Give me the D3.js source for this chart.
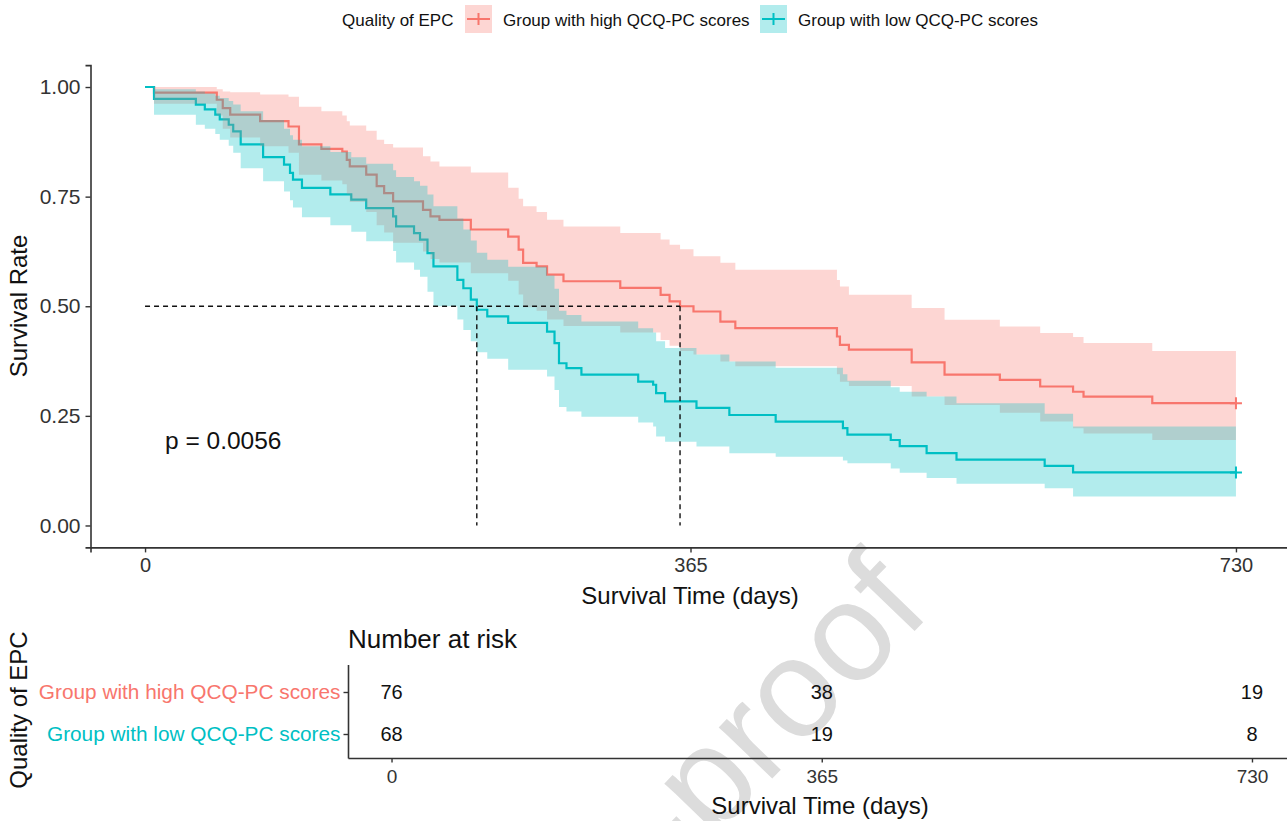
<!DOCTYPE html>
<html>
<head>
<meta charset="utf-8">
<script src="https://cdn.jsdelivr.net/npm/d3@7"></script>
<style>
  body { margin: 0; background: #fff; }
  text { font-family: "Liberation Sans", Arial, sans-serif; }
</style>
</head>
<body>
<svg id="km" width="1287" height="821"></svg>
<script>
// groups and colours (ggplot defaults)
var groups = ["Group with high QCQ-PC scores", "Group with low QCQ-PC scores"];
var colors = ["#F8766D", "#00BFC4"];

// Kaplan-Meier steps: high QCQ-PC group
var highTime  = [0, 6, 48, 52, 57, 77, 96, 103, 118, 132, 135, 137, 148, 155, 160, 166, 186, 191, 197, 218, 243, 250, 253, 262, 269, 280, 318, 345, 351, 358, 367, 385, 395, 463, 465, 471, 513, 535, 572, 599, 621, 628, 674];
var highSurv  = [1, 0.987, 0.971, 0.952, 0.937, 0.922, 0.91, 0.869, 0.859, 0.853, 0.834, 0.819, 0.8, 0.774, 0.758, 0.739, 0.72, 0.705, 0.697, 0.675, 0.659, 0.629, 0.599, 0.591, 0.572, 0.557, 0.542, 0.526, 0.511, 0.5, 0.488, 0.465, 0.45, 0.431, 0.412, 0.401, 0.372, 0.344, 0.332, 0.317, 0.305, 0.294, 0.279];
var highUpper = [1, 1, 0.995, 0.99, 0.988, 0.983, 0.978, 0.955, 0.945, 0.935, 0.922, 0.912, 0.9, 0.88, 0.87, 0.862, 0.842, 0.83, 0.819, 0.805, 0.77, 0.745, 0.728, 0.715, 0.697, 0.682, 0.667, 0.652, 0.64, 0.63, 0.614, 0.599, 0.583, 0.56, 0.545, 0.526, 0.496, 0.469, 0.454, 0.439, 0.43, 0.416, 0.398];
var highLower = [1, 0.962, 0.935, 0.905, 0.885, 0.865, 0.85, 0.8, 0.787, 0.778, 0.755, 0.738, 0.715, 0.685, 0.668, 0.645, 0.625, 0.608, 0.6, 0.575, 0.558, 0.527, 0.498, 0.49, 0.47, 0.455, 0.44, 0.423, 0.41, 0.398, 0.39, 0.374, 0.363, 0.345, 0.328, 0.318, 0.294, 0.275, 0.257, 0.237, 0.222, 0.21, 0.195];

// low QCQ-PC group
var lowTime  = [0, 6, 34, 40, 47, 50, 56, 59, 64, 79, 93, 97, 99, 105, 124, 138, 148, 166, 168, 180, 184, 189, 193, 209, 213, 218, 222, 229, 243, 269, 274, 277, 282, 292, 330, 340, 342, 348, 369, 391, 422, 467, 470, 499, 505, 523, 543, 602, 621];
var lowSurv  = [1, 0.973, 0.96, 0.949, 0.937, 0.926, 0.914, 0.899, 0.869, 0.84, 0.823, 0.804, 0.789, 0.77, 0.755, 0.743, 0.724, 0.705, 0.682, 0.667, 0.652, 0.621, 0.591, 0.56, 0.541, 0.515, 0.492, 0.477, 0.462, 0.442, 0.416, 0.37, 0.359, 0.344, 0.328, 0.321, 0.302, 0.283, 0.268, 0.252, 0.237, 0.222, 0.207, 0.195, 0.181, 0.165, 0.15, 0.136, 0.121];
var lowUpper = [1, 0.995, 0.99, 0.985, 0.98, 0.975, 0.968, 0.96, 0.945, 0.925, 0.905, 0.89, 0.88, 0.865, 0.852, 0.84, 0.825, 0.81, 0.795, 0.785, 0.775, 0.755, 0.728, 0.7, 0.675, 0.65, 0.622, 0.606, 0.59, 0.57, 0.54, 0.49, 0.48, 0.465, 0.45, 0.44, 0.42, 0.405, 0.39, 0.374, 0.36, 0.345, 0.33, 0.315, 0.305, 0.294, 0.279, 0.255, 0.226];
var lowLower = [1, 0.937, 0.914, 0.905, 0.893, 0.88, 0.866, 0.85, 0.815, 0.785, 0.762, 0.742, 0.725, 0.703, 0.685, 0.67, 0.648, 0.626, 0.6, 0.583, 0.567, 0.533, 0.5, 0.47, 0.446, 0.42, 0.395, 0.38, 0.355, 0.34, 0.309, 0.27, 0.26, 0.248, 0.235, 0.226, 0.203, 0.191, 0.18, 0.165, 0.157, 0.148, 0.142, 0.13, 0.12, 0.108, 0.095, 0.085, 0.066];

var endTime = 730;
var medianTimes = [222, 358];
var pText = "p = 0.0056";

// number at risk table
var riskTimes = [0, 365, 730];
var riskHigh = [76, 38, 19];
var riskLow = [68, 19, 8];

var xTicks = [0, 365, 730];
var yTicks = [0, 0.25, 0.5, 0.75, 1];

var svg = d3.select("#km");

// watermark of the source page (only its tail shows in the frame)
svg.append("text")
    .attr("transform", "translate(933,612) rotate(-46)")
    .attr("text-anchor", "end")
    .style("font-size", "140px")
    .style("fill", "#dcdcdc")
    .text("-proof");

// scales for the survival panel
var x = d3.scaleLinear().domain([-36.5, 766.5]).range([90.5, 1290.5]);
var y = d3.scaleLinear().domain([-0.05, 1.05]).range([547.4, 65.1]);

function series(t, s, up, lo) {
  var rows = t.map(function(d, i) { return {t: d, s: s[i], up: up[i], lo: lo[i]}; });
  var last = rows[rows.length - 1];
  rows.push({t: endTime, s: last.s, up: last.up, lo: last.lo});
  return rows;
}
var data = [
  series(highTime, highSurv, highUpper, highLower),
  series(lowTime, lowSurv, lowUpper, lowLower)
];

var line = d3.line().curve(d3.curveStepAfter)
    .x(function(d) { return x(d.t); })
    .y(function(d) { return y(d.s); });
var band = d3.area().curve(d3.curveStepAfter)
    .x(function(d) { return x(d.t); })
    .y0(function(d) { return y(d.lo); })
    .y1(function(d) { return y(d.up); });

// lines first, then ribbons on top (as survminer does)
data.forEach(function(d, i) {
  svg.append("path").attr("d", line(d))
      .attr("fill", "none").attr("stroke", colors[i]).attr("stroke-width", 2.2);
});
data.forEach(function(d, i) {
  svg.append("path").attr("d", band(d))
      .attr("fill", colors[i]).attr("fill-opacity", 0.3).attr("stroke", "none");
});

// censor marks at the end
data.forEach(function(d, i) {
  var last = d[d.length - 1];
  var cx = x(last.t), cy = y(last.s);
  svg.append("path")
      .attr("d", "M" + (cx - 6) + "," + cy + "H" + (cx + 6) + "M" + cx + "," + (cy - 6) + "V" + (cy + 6))
      .attr("stroke", colors[i]).attr("stroke-width", 2);
});

// median survival lines
var dash = svg.append("g").attr("stroke", "#111").attr("stroke-width", 1.4)
    .attr("stroke-dasharray", "5,4").attr("fill", "none");
dash.append("path").attr("d", "M" + x(0) + "," + y(0.5) + "H" + x(d3.max(medianTimes)));
medianTimes.forEach(function(m) {
  dash.append("path").attr("d", "M" + x(m) + "," + y(0.5) + "V" + y(0));
});

// axes
function styleAxis(g, size) {
  g.select(".domain").attr("stroke", "#333").attr("stroke-width", 1.6);
  g.selectAll(".tick line").attr("stroke", "#333").attr("stroke-width", 1.4);
  g.selectAll(".tick text").attr("fill", "#333").style("font-size", size + "px")
      .style("font-family", "'Liberation Sans', Arial, sans-serif");
}

var yAxis = svg.append("g").attr("transform", "translate(90.5,0)")
    .call(d3.axisLeft(y).tickValues(yTicks).tickFormat(d3.format(".2f")).tickSizeOuter(0).tickSize(5).tickPadding(5));
styleAxis(yAxis, 21);

var xAxis = svg.append("g").attr("transform", "translate(0,547.4)")
    .call(d3.axisBottom(x).tickValues(xTicks).tickFormat(d3.format("d")).tickSizeOuter(0).tickSize(5).tickPadding(5));
styleAxis(xAxis, 20);

svg.append("text").attr("x", 690).attr("y", 604).attr("text-anchor", "middle")
    .style("font-size", "24px").attr("fill", "#111").text("Survival Time (days)");
svg.append("text").attr("transform", "translate(27,306) rotate(-90)").attr("text-anchor", "middle")
    .style("font-size", "24px").attr("fill", "#111").text("Survival Rate");
svg.append("text").attr("x", 165).attr("y", 449)
    .style("font-size", "24.5px").attr("fill", "#111").text(pText);

// legend on top
var legend = svg.append("g");
legend.append("text").attr("x", 342).attr("y", 26).style("font-size", "17px").attr("fill", "#111").text("Quality of EPC");
var keyX = [465, 760], labelX = [503, 798];
groups.forEach(function(g, i) {
  legend.append("rect").attr("x", keyX[i]).attr("y", 5).attr("width", 27).attr("height", 28)
      .attr("fill", colors[i]).attr("fill-opacity", 0.3);
  legend.append("path")
      .attr("d", "M" + (keyX[i] + 2) + ",19H" + (keyX[i] + 25) + "M" + (keyX[i] + 13.5) + ",13V25")
      .attr("stroke", colors[i]).attr("stroke-width", 2);
  legend.append("text").attr("x", labelX[i]).attr("y", 26).style("font-size", "17px")
      .attr("fill", "#111").text(g);
});

// number-at-risk table
var xr = d3.scaleLinear().domain([-36.5, 766.5]).range([348.5, 1295]);
var yr = d3.scalePoint().domain(groups).range([692, 734]);

svg.append("text").attr("x", 348).attr("y", 648).style("font-size", "26px").attr("fill", "#111").text("Number at risk");

var rAxisY = svg.append("g").attr("transform", "translate(348.5,0)")
    .call(d3.axisLeft(yr).tickSizeOuter(0).tickSize(5).tickPadding(3));
rAxisY.select(".domain").attr("d", "M0,665V758.5").attr("stroke", "#333").attr("stroke-width", 1.6);
rAxisY.selectAll(".tick line").attr("stroke", "#333").attr("stroke-width", 1.4);
rAxisY.selectAll(".tick text")
    .attr("fill", function(d, i) { return colors[i]; })
    .style("font-size", "20.8px").style("font-family", "'Liberation Sans', Arial, sans-serif");

var rAxisX = svg.append("g").attr("transform", "translate(0,758.5)")
    .call(d3.axisBottom(xr).tickValues(xTicks).tickFormat(d3.format("d")).tickSizeOuter(0).tickSize(4).tickPadding(7));
styleAxis(rAxisX, 19);
rAxisX.select(".domain").attr("d", "M348.5,0H1287");

[riskHigh, riskLow].forEach(function(row, i) {
  svg.append("g").selectAll("text").data(row).enter().append("text")
      .attr("x", function(d, j) { return xr(riskTimes[j]); })
      .attr("y", yr(groups[i]) + 7)
      .attr("text-anchor", "middle")
      .style("font-size", "20px").attr("fill", "#111")
      .text(function(d) { return d; });
});

svg.append("text").attr("x", 820).attr("y", 814).attr("text-anchor", "middle")
    .style("font-size", "24px").attr("fill", "#111").text("Survival Time (days)");
svg.append("text").attr("transform", "translate(27,710) rotate(-90)").attr("text-anchor", "middle")
    .style("font-size", "24px").attr("fill", "#111").text("Quality of EPC");
</script>
</body>
</html>
